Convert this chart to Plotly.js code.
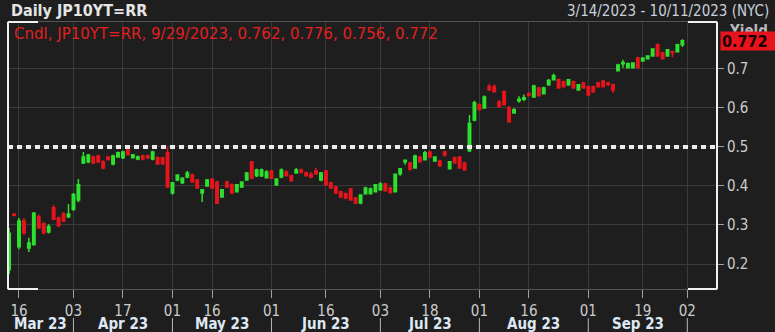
<!DOCTYPE html>
<html><head><meta charset="utf-8">
<script src="https://cdn.plot.ly/plotly-3.0.1.min.js"></script>
<style>html,body{margin:0;padding:0;background:#1e1e1e;}#chart{width:775px;height:332px;}</style>
</head><body><div id="chart"></div>
<script>
// Trading days shown on the axis (JGB market), data runs to 2023-09-29
const axisDays = [
'2023-03-14','2023-03-15','2023-03-16','2023-03-17','2023-03-20','2023-03-22','2023-03-23','2023-03-24','2023-03-27','2023-03-28','2023-03-29','2023-03-30','2023-03-31',
'2023-04-03','2023-04-04','2023-04-05','2023-04-06','2023-04-07','2023-04-10','2023-04-11','2023-04-12','2023-04-13','2023-04-14','2023-04-17','2023-04-18','2023-04-19','2023-04-20','2023-04-21','2023-04-24','2023-04-25','2023-04-26','2023-04-27','2023-04-28',
'2023-05-01','2023-05-02','2023-05-08','2023-05-09','2023-05-10','2023-05-11','2023-05-12','2023-05-15','2023-05-16','2023-05-17','2023-05-18','2023-05-19','2023-05-22','2023-05-23','2023-05-24','2023-05-25','2023-05-26','2023-05-29','2023-05-30','2023-05-31',
'2023-06-01','2023-06-02','2023-06-05','2023-06-06','2023-06-07','2023-06-08','2023-06-09','2023-06-12','2023-06-13','2023-06-14','2023-06-15','2023-06-16','2023-06-19','2023-06-20','2023-06-21','2023-06-22','2023-06-23','2023-06-26','2023-06-27','2023-06-28','2023-06-29','2023-06-30',
'2023-07-03','2023-07-04','2023-07-05','2023-07-06','2023-07-07','2023-07-10','2023-07-11','2023-07-12','2023-07-13','2023-07-14','2023-07-18','2023-07-19','2023-07-20','2023-07-21','2023-07-24','2023-07-25','2023-07-26','2023-07-27','2023-07-28','2023-07-31',
'2023-08-01','2023-08-02','2023-08-03','2023-08-04','2023-08-07','2023-08-08','2023-08-09','2023-08-10','2023-08-14','2023-08-15','2023-08-16','2023-08-17','2023-08-18','2023-08-21','2023-08-22','2023-08-23','2023-08-24','2023-08-25','2023-08-28','2023-08-29','2023-08-30','2023-08-31',
'2023-09-01','2023-09-04','2023-09-05','2023-09-06','2023-09-07','2023-09-08','2023-09-11','2023-09-12','2023-09-13','2023-09-14','2023-09-15','2023-09-19','2023-09-20','2023-09-21','2023-09-22','2023-09-25','2023-09-26','2023-09-27','2023-09-28','2023-09-29',
'2023-10-02','2023-10-03','2023-10-04','2023-10-05','2023-10-06','2023-10-10','2023-10-11'
];
const lastDataDay = '2023-09-29';

const openV = [
0.185,0.328,0.244,0.310,0.241,0.250,0.322,0.303,0.282,0.344,0.318,0.328,0.321,
0.340,0.364,0.459,0.462,0.474,0.477,0.462,0.474,0.456,0.474,0.472,0.492,0.472,0.469,0.477,0.477,0.469,0.472,0.472,0.485,
0.382,0.415,0.408,0.423,0.428,0.415,0.382,0.400,0.418,0.410,0.372,0.410,0.403,0.385,0.397,0.415,0.462,0.426,0.426,0.421,
0.438,0.403,0.423,0.436,0.426,0.433,0.441,0.433,0.430,0.438,0.415,0.438,0.408,0.397,0.385,0.380,0.392,0.369,0.356,0.380,0.380,0.385,
0.390,0.405,0.395,0.385,0.431,0.462,0.459,0.446,0.474,0.467,0.487,0.464,0.464,0.487,0.444,0.472,0.474,0.459,0.490,0.569,
0.608,0.600,0.655,0.655,0.615,0.641,0.600,0.587,0.618,0.622,0.637,0.628,0.651,0.636,0.659,0.672,0.672,0.667,0.659,0.667,0.646,0.664,
0.654,0.654,0.664,0.669,0.664,0.659,0.695,0.713,0.703,0.703,0.728,0.720,0.726,0.733,0.762,0.741,0.733,0.744,0.744,0.762
];
const highV = [
0.292,0.330,0.318,0.318,0.267,0.333,0.327,0.307,0.302,0.352,0.322,0.333,0.354,
0.382,0.418,0.487,0.482,0.478,0.480,0.466,0.477,0.480,0.488,0.490,0.497,0.482,0.478,0.480,0.481,0.490,0.476,0.475,0.500,
0.410,0.430,0.422,0.438,0.432,0.418,0.392,0.418,0.420,0.413,0.392,0.413,0.406,0.405,0.412,0.436,0.464,0.444,0.445,0.440,
0.441,0.420,0.445,0.440,0.429,0.446,0.445,0.437,0.435,0.446,0.436,0.441,0.410,0.400,0.388,0.383,0.395,0.372,0.379,0.398,0.396,0.405,
0.410,0.408,0.398,0.432,0.446,0.467,0.462,0.480,0.477,0.490,0.490,0.476,0.467,0.490,0.464,0.475,0.477,0.462,0.582,0.618,
0.612,0.632,0.662,0.660,0.620,0.645,0.605,0.600,0.630,0.634,0.640,0.659,0.654,0.654,0.674,0.688,0.675,0.670,0.674,0.670,0.661,0.667,
0.657,0.657,0.667,0.672,0.667,0.662,0.713,0.723,0.716,0.717,0.731,0.730,0.735,0.753,0.765,0.744,0.751,0.746,0.764,0.776
];
const lowV = [
0.174,0.322,0.238,0.275,0.231,0.247,0.290,0.276,0.278,0.312,0.295,0.307,0.318,
0.336,0.358,0.456,0.458,0.456,0.459,0.443,0.465,0.453,0.472,0.469,0.478,0.470,0.466,0.466,0.469,0.466,0.454,0.454,0.395,
0.378,0.412,0.405,0.420,0.408,0.393,0.359,0.398,0.393,0.354,0.370,0.395,0.380,0.383,0.395,0.413,0.418,0.423,0.423,0.419,
0.418,0.400,0.420,0.424,0.411,0.431,0.432,0.424,0.420,0.428,0.412,0.401,0.393,0.380,0.370,0.366,0.362,0.354,0.353,0.378,0.378,0.383,
0.388,0.385,0.380,0.383,0.426,0.454,0.440,0.444,0.460,0.465,0.472,0.462,0.449,0.475,0.442,0.457,0.444,0.439,0.487,0.566,
0.593,0.598,0.644,0.640,0.602,0.606,0.562,0.585,0.613,0.617,0.630,0.626,0.629,0.634,0.657,0.670,0.649,0.652,0.657,0.649,0.644,0.649,
0.631,0.639,0.652,0.652,0.656,0.638,0.693,0.703,0.701,0.701,0.701,0.718,0.724,0.731,0.731,0.724,0.731,0.730,0.742,0.756
];
const closeV = [
0.279,0.325,0.310,0.280,0.254,0.330,0.293,0.280,0.296,0.315,0.298,0.310,0.328,
0.378,0.403,0.474,0.479,0.459,0.462,0.446,0.467,0.477,0.485,0.487,0.480,0.480,0.474,0.469,0.472,0.487,0.456,0.457,0.397,
0.408,0.428,0.420,0.433,0.410,0.395,0.390,0.415,0.395,0.356,0.390,0.397,0.382,0.403,0.410,0.433,0.420,0.441,0.441,0.436,
0.420,0.418,0.441,0.426,0.413,0.441,0.435,0.426,0.423,0.431,0.433,0.403,0.395,0.382,0.372,0.369,0.364,0.356,0.377,0.395,0.392,0.403,
0.405,0.388,0.383,0.430,0.444,0.466,0.442,0.477,0.462,0.485,0.474,0.474,0.451,0.479,0.462,0.459,0.446,0.441,0.560,0.613,
0.596,0.628,0.646,0.641,0.603,0.608,0.564,0.595,0.622,0.626,0.632,0.656,0.631,0.651,0.670,0.682,0.651,0.654,0.672,0.651,0.659,0.651,
0.633,0.641,0.654,0.654,0.660,0.646,0.710,0.716,0.713,0.715,0.703,0.728,0.733,0.751,0.733,0.726,0.749,0.742,0.762,0.772
];

const tickDays = ['2023-03-16','2023-04-03','2023-04-17','2023-05-01','2023-05-16','2023-06-01','2023-06-16','2023-07-03','2023-07-18','2023-08-01','2023-08-16','2023-09-01','2023-09-19','2023-10-02'];
const tickLabels = ['16','03','17','01','16','01','16','03','18','01','16','01','19','02'];
const monthStarts = ['2023-04-03','2023-05-01','2023-06-01','2023-07-03','2023-08-01','2023-09-01','2023-10-02'];
const monthLabels = ['Mar 23','Apr 23','May 23','Jun 23','Jul 23','Aug 23','Sep 23'];
const yTicks = [0.2,0.3,0.4,0.5,0.6,0.7];
const refLevel = 0.5;
const titleText = 'Daily JP10YT=RR';
const rangeText = '3/14/2023 - 10/11/2023 (NYC)';
const legendText = 'Cndl, JP10YT=RR, 9/29/2023, 0.762, 0.776, 0.756, 0.772';
const lastValueText = '0.772';
const yLabel = 'Yield';

const nData = axisDays.indexOf(lastDataDay) + 1;
const xIdx = axisDays.slice(0, nData).map((d, i) => i);
const idx = d => axisDays.indexOf(d);

const FONT = '"DejaVu Sans Condensed", "DejaVu Sans", Tahoma, sans-serif';
const FONTW = '"DejaVu Sans", Tahoma, sans-serif';
const GREEN = '#2ee02e', RED = '#e8141c';

const trace = {
  type: 'candlestick', x: xIdx, open: openV, high: highV, low: lowV, close: closeV,
  increasing: {line: {color: GREEN, width: 1.5}, fillcolor: GREEN},
  decreasing: {line: {color: RED, width: 1.5}, fillcolor: RED},
  whiskerwidth: 0, hoverinfo: 'none', showlegend: false
};

const L = 8, R = 717, T = 22, B = 289;
const W = 775, H = 332;
const pw = R - L, ph = B - T;
const px = x => (x - L) / pw;            // pixel -> paper x
const py = y => (B - y) / ph;            // pixel -> paper y

const shapes = [];
// reference dotted line
shapes.push({type: 'line', xref: 'paper', x0: 0, x1: 1, yref: 'y', y0: refLevel, y1: refLevel,
  line: {color: '#ececec', width: 4, dash: '5px,4px'}, layer: 'above'});
// month separators below axis
monthStarts.forEach(d => {
  const i = idx(d);
  shapes.push({type: 'line', xref: 'x', x0: i, x1: i, yref: 'paper', y0: py(318), y1: py(332),
    line: {color: '#b8b8b8', width: 1}});
});
// white frame brackets
const wl = {color: '#f0f0f0', width: 2};
shapes.push({type: 'line', xref: 'paper', yref: 'paper', x0: 0, x1: 0, y0: 0, y1: 1, line: wl});
shapes.push({type: 'line', xref: 'paper', yref: 'paper', x0: 1, x1: 1, y0: 0, y1: 1, line: wl});
shapes.push({type: 'line', xref: 'paper', yref: 'paper', x0: 0, x1: px(38), y0: 1, y1: 1, line: wl});
shapes.push({type: 'line', xref: 'paper', yref: 'paper', x0: 0, x1: px(38), y0: 0, y1: 0, line: wl});
shapes.push({type: 'line', xref: 'paper', yref: 'paper', x0: px(688), x1: 1, y0: 1, y1: 1, line: wl});
shapes.push({type: 'line', xref: 'paper', yref: 'paper', x0: px(688), x1: 1, y0: 0, y1: 0, line: wl});

const annotations = [];
annotations.push({text: '<b>' + titleText + '</b>', xref: 'paper', yref: 'paper', x: px(9), y: py(11),
  xanchor: 'left', yanchor: 'middle', showarrow: false, font: {family: FONT, size: 16, color: '#e4e4e4'}});
annotations.push({text: rangeText, xref: 'paper', yref: 'paper', x: px(771), y: py(11),
  xanchor: 'right', yanchor: 'middle', showarrow: false, font: {family: FONT, size: 15, color: '#c8d0dc'}});
annotations.push({text: legendText, xref: 'paper', yref: 'paper', x: px(12), y: py(34),
  xanchor: 'left', yanchor: 'middle', showarrow: false, font: {family: FONTW, size: 15, color: '#e02020'}});
annotations.push({text: '<b>' + yLabel + '</b>', xref: 'paper', yref: 'paper', x: px(748), y: py(31),
  xanchor: 'center', yanchor: 'middle', showarrow: false, font: {family: FONT, size: 15, color: '#b8b8b8'}});
annotations.push({text: '<b>' + lastValueText + '</b>', xref: 'paper', yref: 'y', x: px(720), y: closeV[nData - 1],
  xanchor: 'left', yanchor: 'middle', showarrow: false, bgcolor: RED, width: 52, height: 16, align: 'left',
  borderpad: 1, font: {family: FONT, size: 16, color: '#1a0000'}});
monthStarts.forEach((d, k) => {
  const a = k === 0 ? -0.22 : idx(monthStarts[k - 1]);
  const b = idx(d);
  annotations.push({text: '<b>' + monthLabels[k] + '</b>', xref: 'x', yref: 'paper', x: (a + b) / 2, y: py(324),
    xanchor: 'center', yanchor: 'middle', showarrow: false, font: {family: FONT, size: 15, color: '#dde8f4'}});
});

const layout = {
  width: W, height: H,
  margin: {l: L, r: W - R, t: T, b: H - B, pad: 0},
  paper_bgcolor: '#1e1e1e', plot_bgcolor: '#1e1e1e',
  showlegend: false,
  xaxis: {
    type: 'linear', range: [-0.22, 143], rangeslider: {visible: false},
    tickmode: 'array', tickvals: tickDays.map(idx), ticktext: tickLabels,
    ticks: 'outside', ticklen: 8, tickcolor: '#a0a0a0', tickwidth: 1,
    showgrid: true, gridcolor: '#3a3a3a', gridwidth: 1, zeroline: false,
    showline: true, linecolor: '#555555', linewidth: 1, mirror: true,
    tickfont: {family: FONT, size: 15, color: '#cccccc'}, fixedrange: true
  },
  yaxis: {
    side: 'right', range: [0.136, 0.82], tickmode: 'array', tickvals: yTicks,
    ticktext: yTicks.map(v => v.toFixed(1)),
    ticks: 'outside', ticklen: 6, tickcolor: '#a0a0a0', tickwidth: 1,
    showgrid: true, gridcolor: '#3a3a3a', gridwidth: 1, zeroline: false,
    showline: true, linecolor: '#555555', mirror: true,
    tickfont: {family: FONT, size: 15, color: '#cccccc'}, fixedrange: true
  },
  shapes: shapes, annotations: annotations
};

Plotly.newPlot('chart', [trace], layout, {staticPlot: true, displayModeBar: false});
</script></body></html>
